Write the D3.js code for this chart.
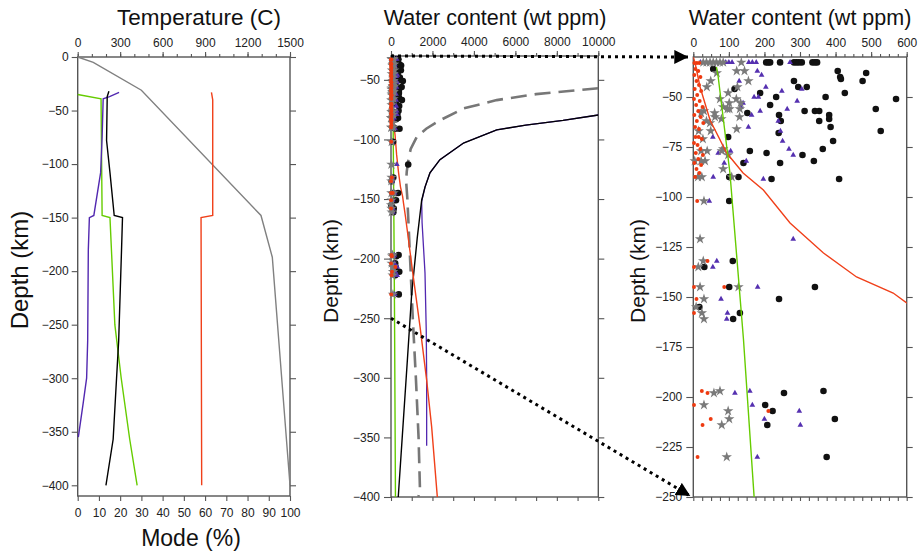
<!DOCTYPE html>
<html>
<head>
<meta charset="utf-8">
<script src="https://cdn.jsdelivr.net/npm/d3@7"></script>
<style>
  body { margin: 0; background: #fff; }
  text { font-family: "Liberation Sans", Arial, sans-serif; }
</style>
</head>
<body>
<script>
// ---- data (depth in km, negative downward) ----
// temperature profile [T (C), depth]
const geotherm = [[0, 0], [110, -5], [450, -31], [1295, -148], [1375, -187], [1500, -400]];

// modal abundances [mode %, depth]
const modeRed = [[63, -33], [63.6, -40], [63.6, -148], [58.1, -150], [58.4, -400]];
const modeGreen = [[0, -35], [11, -39], [11.5, -148], [15.2, -150], [17.5, -250], [20.5, -300], [24.5, -357], [28, -400]];
const modePurple = [[19.5, -33], [15, -37], [12, -39], [11.5, -75], [10.8, -108], [7.6, -148], [5.5, -150], [5, -180],
  [4.7, -265], [4.2, -300], [2.6, -323], [0.3, -355]];
const modeBlack = [[14.7, -32], [13.9, -37], [13.6, -78], [15.2, -108], [17.2, -148], [21.1, -150], [20.6, -183],
  [19.3, -265], [18.3, -300], [16.7, -357], [13.3, -400]];

// water content curves [ppm, depth]
const waterDashed = [[10000, -57], [7000, -62], [5100, -67], [3500, -74], [2360, -84], [1700, -91], [1240, -98],
  [950, -108], [840, -117], [760, -127], [730, -135], [790, -150], [870, -180], [920, -200], [1050, -250],
  [1200, -300], [1330, -350], [1400, -395], [1320, -400]];
const waterBlack = [[10000, -79.5], [8300, -84], [6500, -88], [5100, -92], [3500, -103], [2360, -117], [1880, -128],
  [1640, -140], [1480, -151], [1270, -182], [1000, -229], [790, -285], [350, -400]];
const waterPurple = [[10000, -79.5], [8300, -84], [6500, -88], [5100, -92], [3500, -103], [2360, -117], [1880, -128],
  [1640, -140], [1480, -152], [1500, -170], [1640, -212], [1700, -260], [1720, -300], [1720, -357]];
const waterRed = [[0, -30], [5, -33], [19, -45], [47, -61.5], [94, -78], [140, -88], [197, -96.5], [272, -113],
  [366, -128], [459, -140], [562, -148], [600, -153], [700, -165], [850, -185], [1050, -212], [1400, -257],
  [1720, -302], [1960, -341], [2235, -400]];
const waterGreen = [[65, -35], [70, -40], [103, -88], [141, -171], [171, -250], [215, -400]];

// measured samples [ppm, depth]
const blackDots = [[205, -32.7], [211, -32.7], [216, -32.7], [244, -32.7], [283, -32.7], [290, -32.7], [297, -32.7],
  [305, -32.7], [335, -32.7], [342, -32.7], [348, -32.7],
  [56, -36], [406, -37], [486, -38], [413, -40], [415, -41], [476, -42], [283, -42], [116, -46], [295, -45], [319, -45],
  [426, -48], [188, -48], [233, -50], [372, -50], [570, -51], [216, -54], [513, -56], [313, -57], [342, -57], [354, -57],
  [152, -58], [241, -59], [382, -59], [382, -61], [246, -62], [354, -62], [386, -65], [527, -67], [240, -68], [98, -70],
  [393, -72], [364, -76], [159, -77], [206, -78], [307, -79], [339, -82], [244, -83], [141, -83], [101, -90], [127, -90],
  [220, -91], [410, -91], [101, -102], [830, -121], [111, -132], [31, -135], [101, -145], [342, -145], [241, -151],
  [17, -155], [131, -158], [112, -161], [255, -198], [366, -197], [202, -204], [223, -207], [398, -211], [208, -214],
  [375, -230]];
const purpleTris = [[20, -32.7], [91, -32.7], [100, -32.7], [109, -32.7], [156, -32.7], [166, -32.7], [177, -32.7],
  [272, -32.7],
  [180, -37], [192, -39], [129, -42], [204, -45], [305, -46], [249, -47], [171, -50], [183, -50], [292, -52], [140, -53],
  [134, -55], [264, -56], [188, -57], [164, -59], [239, -62], [155, -65], [245, -67], [55, -70], [251, -72], [269, -76],
  [105, -77], [70, -78], [281, -79], [149, -82], [87, -83], [56, -90], [197, -91], [45, -102], [281, -121], [66, -132],
  [55, -135], [181, -145], [78, -151], [96, -158], [94, -161], [117, -198], [159, -197], [166, -204], [298, -207],
  [200, -211], [301, -214], [180, -230]];
const grayStars = [[28, -32.7], [37, -32.7], [47, -32.7], [56, -32.7], [65, -32.7], [75, -32.7], [84, -32.7], [135, -32.7],
  [66, -38], [122, -37], [144, -37], [49, -42], [155, -42], [38, -45], [124, -45], [98, -48], [75, -51], [121, -51],
  [101, -53], [133, -53], [84, -55], [96, -56], [102, -56], [131, -56], [30, -57], [60, -58], [22, -58], [61, -60],
  [130, -60], [79, -61], [37, -62], [47, -63], [122, -66], [15, -67], [49, -67], [27, -71], [84, -76], [39, -77],
  [80, -77], [22, -77], [98, -79], [4, -82], [22, -82], [33, -82], [84, -86], [108, -90], [13, -90], [24, -90],
  [30, -102], [19, -121], [28, -132], [14, -135], [19, -145], [127, -145], [30, -151], [8, -155], [24, -158], [30, -161],
  [75, -197], [58, -198], [30, -204], [98, -207], [101, -211], [80, -214], [94, -230]];
const redDiamonds = [[3, -33], [10, -33], [17, -33], [6, -36], [14, -37], [3, -39], [20, -40], [9, -42], [16, -44],
  [4, -46], [22, -47], [11, -49], [2, -51], [18, -52], [8, -54], [26, -55], [14, -57], [3, -59], [21, -60], [10, -62],
  [28, -63], [5, -65], [16, -66], [6, -70], [15, -70], [24, -71], [2, -73], [12, -74], [20, -76], [7, -78], [27, -79],
  [14, -81], [3, -83], [22, -84], [9, -86], [17, -88], [5, -90], [11, -102], [40, -132], [2, -135], [2, -145], [87, -145],
  [9, -151], [2, -158], [24, -197], [40, -198], [2, -204], [49, -211], [26, -214], [211, -207], [12, -230]];

// tick labels
const tempTicks = [0, 300, 600, 900, 1200, 1500];
const modeTicks = [0, 10, 20, 30, 40, 50, 60, 70, 80, 90, 100];
const depthTicks1 = [0, -50, -100, -150, -200, -250, -300, -350, -400];
const waterTicks2 = [0, 2000, 4000, 6000, 8000, 10000];
const depthTicks2 = [-50, -100, -150, -200, -250, -300, -350, -400];
const waterTicks3 = [0, 100, 200, 300, 400, 500, 600];
const depthTicks3 = [-50, -75, -100, -125, -150, -175, -200, -225, -250];

const RED = '#f0401a', GREEN = '#66cc00', PURPLE = '#5228b0', GRAY = '#7a7a7a';

const svg = d3.select('body').append('svg')
  .attr('width', 923)
  .attr('height', 553);

const fmt = d3.format('d');

// scales
const y1 = d3.scaleLinear([0, -410], [57, 496]);
const tempX = d3.scaleLinear([0, 1500], [77.7, 290]);
const modeX = d3.scaleLinear([0, 100], [77.7, 290]);
const x2 = d3.scaleLinear([0, 10000], [391, 598.3]);
const y2 = d3.scaleLinear([-30, -400], [56, 497]);
const x3 = d3.scaleLinear([0, 600], [693.3, 906.7]);
const y3 = d3.scaleLinear([-30, -250], [57, 497]);

function addAxis(gen, transform) {
  const a = svg.append('g').attr('transform', transform).call(gen);
  a.select('.domain').remove();
  a.selectAll('line').attr('stroke', '#555').attr('stroke-width', 1.1);
  a.selectAll('text').attr('font-size', 12).attr('fill', '#222');
  return a;
}

function frame(x, y) {
  const [x0, x1] = x.range(), [ya, yb] = y.range();
  svg.append('rect')
    .attr('x', x0).attr('y', ya)
    .attr('width', x1 - x0).attr('height', yb - ya)
    .attr('fill', 'none').attr('stroke', '#555').attr('stroke-width', 1.4);
}

function clip(id, x, y) {
  const [x0, x1] = x.range(), [ya, yb] = y.range();
  svg.append('clipPath').attr('id', id).append('rect')
    .attr('x', x0).attr('y', ya).attr('width', x1 - x0).attr('height', yb - ya);
}

function drawLine(g, data, x, y, color, width, dash) {
  g.append('path')
    .datum(data)
    .attr('fill', 'none')
    .attr('stroke', color)
    .attr('stroke-width', width)
    .attr('stroke-dasharray', dash || null)
    .attr('d', d3.line().x(d => x(d[0])).y(d => y(d[1])));
}

function drawScatter(g, x, y) {
  const xmax = x.domain()[1];
  const sets = [
    [blackDots, d3.symbolCircle, 34, '#111'],
    [purpleTris, d3.symbolTriangle, 14, '#5530b0'],
    [grayStars, d3.symbolStar, 34, GRAY],
    [redDiamonds, d3.symbolCircle, 12, '#ee3a10']
  ];
  sets.forEach(([data, type, size, color]) => {
    g.append('g').selectAll('path')
      .data(data.filter(d => d[0] <= xmax))
      .enter().append('path')
      .attr('d', d3.symbol().type(type).size(size))
      .attr('fill', color)
      .attr('transform', d => `translate(${x(d[0])},${y(d[1])})`);
  });
}

// ---- panel 1: temperature and mode ----
frame(tempX, y1);
addAxis(d3.axisLeft(y1).tickValues(depthTicks1).tickSize(6).tickPadding(3).tickFormat(fmt), 'translate(77.7,0)');
addAxis(d3.axisRight(y1).tickValues(depthTicks1).tickSize(6).tickFormat(''), 'translate(290,0)');
addAxis(d3.axisTop(tempX).tickValues(d3.range(0, 1501, 100)).tickSize(3).tickFormat(''), 'translate(0,57)');
addAxis(d3.axisTop(tempX).tickValues(tempTicks).tickSize(5).tickPadding(5).tickFormat(fmt), 'translate(0,57)');
addAxis(d3.axisBottom(modeX).tickValues(modeTicks).tickSize(5).tickPadding(7).tickFormat(fmt), 'translate(0,496)');

const p1 = svg.append('g');
drawLine(p1, geotherm, tempX, y1, '#808080', 1.4);
drawLine(p1, modeRed, modeX, y1, RED, 1.4);
drawLine(p1, modeGreen, modeX, y1, GREEN, 1.4);
drawLine(p1, modePurple, modeX, y1, PURPLE, 1.4);
drawLine(p1, modeBlack, modeX, y1, '#000', 1.4);

// ---- panel 2: water content, full range ----
clip('clip2', x2, y2);
frame(x2, y2);
addAxis(d3.axisLeft(y2).tickValues(depthTicks2).tickSize(7).tickPadding(4).tickFormat(fmt), 'translate(391,0)');
addAxis(d3.axisRight(y2).tickValues(depthTicks2).tickSize(6).tickFormat(''), 'translate(598.3,0)');
addAxis(d3.axisTop(x2).tickValues(d3.range(0, 10001, 1000)).tickSize(3).tickFormat(''), 'translate(0,56)');
addAxis(d3.axisTop(x2).tickValues(waterTicks2).tickSize(5).tickPadding(5).tickFormat(fmt), 'translate(0,56)');
addAxis(d3.axisBottom(x2).tickValues(d3.range(0, 10001, 1000)).tickSize(4).tickFormat(''), 'translate(0,497)');

const p2 = svg.append('g').attr('clip-path', 'url(#clip2)');
drawLine(p2, waterDashed, x2, y2, '#777', 2.6, '16,8');
drawLine(p2, waterPurple, x2, y2, PURPLE, 1.3);
drawLine(p2, waterBlack, x2, y2, '#000', 1.4);
drawLine(p2, waterRed, x2, y2, RED, 1.4);
drawLine(p2, waterGreen, x2, y2, GREEN, 1.4);
drawScatter(svg.append('g'), x2, y2);

// ---- panel 3: water content, zoom ----
clip('clip3', x3, y3);
frame(x3, y3);
addAxis(d3.axisLeft(y3).tickValues(depthTicks3).tickSize(7).tickPadding(4).tickFormat(fmt), 'translate(693.3,0)');
addAxis(d3.axisRight(y3).tickValues(depthTicks3).tickSize(6).tickFormat(''), 'translate(906.7,0)');
addAxis(d3.axisTop(x3).tickValues(d3.range(0, 601, 25)).tickSize(3).tickFormat(''), 'translate(0,57)');
addAxis(d3.axisTop(x3).tickValues(waterTicks3).tickSize(5).tickPadding(5).tickFormat(fmt), 'translate(0,57)');
addAxis(d3.axisBottom(x3).tickValues(d3.range(0, 601, 25)).tickSize(4).tickFormat(''), 'translate(0,497)');

drawScatter(svg.append('g'), x3, y3);
const p3 = svg.append('g').attr('clip-path', 'url(#clip3)');
drawLine(p3, waterDashed, x3, y3, '#777', 2.6, '16,8');
drawLine(p3, waterPurple, x3, y3, PURPLE, 1.3);
drawLine(p3, waterBlack, x3, y3, '#000', 1.4);
drawLine(p3, waterRed, x3, y3, RED, 1.4);
drawLine(p3, waterGreen, x3, y3, GREEN, 1.4);

// ---- dotted arrows linking panel 2 to the zoom ----
svg.append('defs').append('marker')
  .attr('id', 'head')
  .attr('viewBox', '0 -5 10 10')
  .attr('refX', 10).attr('refY', 0)
  .attr('markerUnits', 'userSpaceOnUse')
  .attr('markerWidth', 14).attr('markerHeight', 14)
  .attr('orient', 'auto')
  .append('path').attr('d', 'M0,-5L10,0L0,5Z').attr('fill', '#000');

const arrows = [
  [[x2(0), y2(-30)], [x3(0) - 5, y3(-30)]],
  [[x2(0), y2(-250)], [x3(0) - 3, y3(-250) - 1]]
];
arrows.forEach(([a, b]) => {
  svg.append('line')
    .attr('x1', a[0]).attr('y1', a[1]).attr('x2', b[0]).attr('y2', b[1])
    .attr('stroke', '#000').attr('stroke-width', 3)
    .attr('stroke-dasharray', '3,4')
    .attr('marker-end', 'url(#head)');
});

// ---- titles and axis names ----
const label = (x, y, txt, size, rot) => svg.append('text')
  .attr('transform', `translate(${x},${y})` + (rot ? ' rotate(-90)' : ''))
  .attr('text-anchor', 'middle')
  .attr('font-size', size)
  .attr('fill', '#111')
  .text(txt);

label(199, 25, 'Temperature (C)', 22.5);
label(495, 25, 'Water content (wt ppm)', 21.5);
label(800, 25, 'Water content (wt ppm)', 21.5);
label(191, 546, 'Mode (%)', 23);
label(28, 270, 'Depth (km)', 24, true);
label(338, 271, 'Depth (km)', 21, true);
label(645, 271, 'Depth (km)', 21, true);
</script>
</body>
</html>
